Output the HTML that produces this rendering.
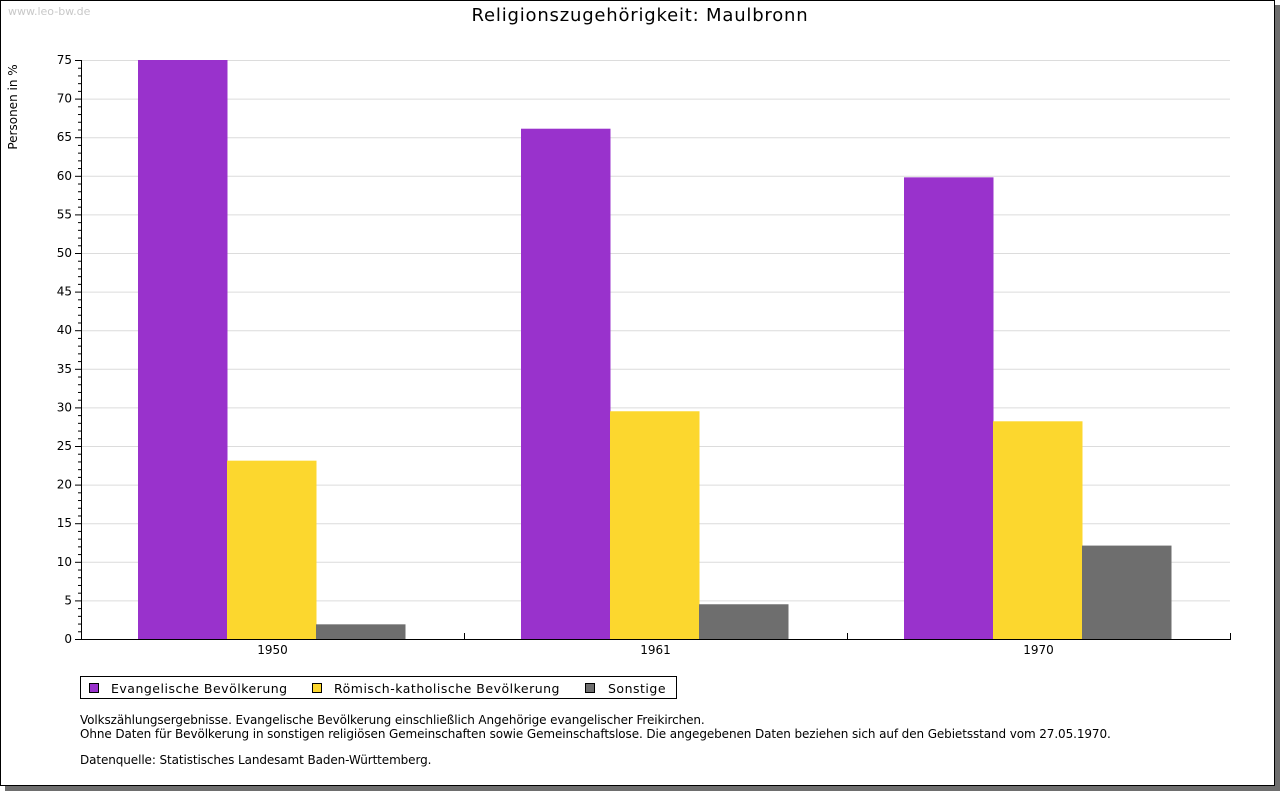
<!DOCTYPE html>
<html><head><meta charset="utf-8"><style>
body{margin:0;background:#fff;}
svg text{font-family:"DejaVu Sans","Liberation Sans",sans-serif;}
</style></head><body>
<svg width="1280" height="791" viewBox="0 0 1280 791" xmlns="http://www.w3.org/2000/svg">
<rect x="5" y="5" width="1275" height="786" fill="#6e6e6e"/>
<rect x="0.5" y="0.5" width="1274" height="785" fill="#fff" stroke="#000"/>
<text x="8" y="15" font-size="11" fill="#c8c8c8">www.leo-bw.de</text>
<text x="640" y="21" font-size="18" letter-spacing="0.8" text-anchor="middle" fill="#000">Religionszugehörigkeit: Maulbronn</text>
<text transform="translate(17,107) rotate(-90)" font-size="12" text-anchor="middle">Personen in %</text>
<g id="grid"></g><g id="bars"></g><g id="axes"></g>
<g>
<rect x="80.5" y="676.5" width="596" height="22" fill="#fff" stroke="#000"/>
<rect x="89.5" y="683.5" width="9" height="9" fill="#9932cc" stroke="#000"/>
<text x="111" y="693" font-size="12.5" letter-spacing="0.5">Evangelische Bevölkerung</text>
<rect x="312.5" y="683.5" width="9" height="9" fill="#fcd72e" stroke="#000"/>
<text x="334" y="693" font-size="12.5" letter-spacing="0.5">Römisch-katholische Bevölkerung</text>
<rect x="585.5" y="683.5" width="9" height="9" fill="#6e6e6e" stroke="#000"/>
<text x="608" y="693" font-size="12.5" letter-spacing="0.5">Sonstige</text>
</g>
<g font-size="12" letter-spacing="-0.1">
<text x="80" y="724">Volkszählungsergebnisse. Evangelische Bevölkerung einschließlich Angehörige evangelischer Freikirchen.</text>
<text x="80" y="738">Ohne Daten für Bevölkerung in sonstigen religiösen Gemeinschaften sowie Gemeinschaftslose. Die angegebenen Daten beziehen sich auf den Gebietsstand vom 27.05.1970.</text>
<text x="80" y="764">Datenquelle: Statistisches Landesamt Baden-Württemberg.</text>
</g>
</svg>
<script>
const categories=["1950","1961","1970"];
const evangelisch=[75.0,66.1,59.8];
const katholisch=[23.1,29.5,28.2];
const sonstige=[1.9,4.5,12.1];
const yTicks=[0,5,10,15,20,25,30,35,40,45,50,55,60,65,70,75];
const NS="http://www.w3.org/2000/svg";
const X0=81,X1=1230,Y0=639,Y1=60,YMAX=75;
const y=v=>Y0-(Y0-Y1)*v/YMAX;
const gw=(X1-X0)/categories.length;
function mk(tag,attrs,parent,txt){const e=document.createElementNS(NS,tag);for(const k in attrs)e.setAttribute(k,attrs[k]);if(txt!==undefined)e.textContent=txt;parent.appendChild(e);return e;}
const grid=document.getElementById('grid'),bars=document.getElementById('bars'),axes=document.getElementById('axes');
yTicks.forEach(t=>{
 if(t>0){const l=mk('line',{x1:X0,x2:X1,y1:y(t)+0.5,y2:y(t)+0.5,stroke:'#dcdcdc'},grid);
 
 }
 mk('line',{x1:X0-6,x2:X0,y1:y(t)+0.5,y2:y(t)+0.5,stroke:'#000'},axes);
 const tx=mk('text',{x:X0-9,y:y(t)+4,'font-size':12,'text-anchor':'end'},axes,String(t));
 
 
});
for(let v=0;v<YMAX;v++){if(v%5)mk('line',{x1:X0-3,x2:X0,y1:y(v)+0.5,y2:y(v)+0.5,stroke:'#000'},axes);}
const series=[[evangelisch,'#9932cc','bar-evangelisch'],[katholisch,'#fcd72e','bar-katholisch'],[sonstige,'#6e6e6e','bar-sonstige']];
const bw=89,off=57;
categories.forEach((c,i)=>{
 const gx=X0+gw*i;
 series.forEach((s,j)=>{
  const v=s[0][i];
  const r=mk('rect',{x:gx+off+bw*j,y:y(v),width:bw+0.5,height:Y0-y(v),fill:s[1]},bars);
  
  
 });
 const t=mk('text',{x:gx+gw/2,y:Y0+15,'font-size':12,'text-anchor':'middle'},axes,c);
 
 
 mk('line',{x1:gx+gw+0.5,x2:gx+gw+0.5,y1:Y0-6,y2:Y0,stroke:'#000'},axes);
});
mk('line',{x1:X0+0.5,x2:X0+0.5,y1:Y1,y2:Y0+1,stroke:'#000'},axes);
mk('line',{x1:X0,x2:X1+1,y1:Y0+0.5,y2:Y0+0.5,stroke:'#000'},axes);
</script>
</body></html>
